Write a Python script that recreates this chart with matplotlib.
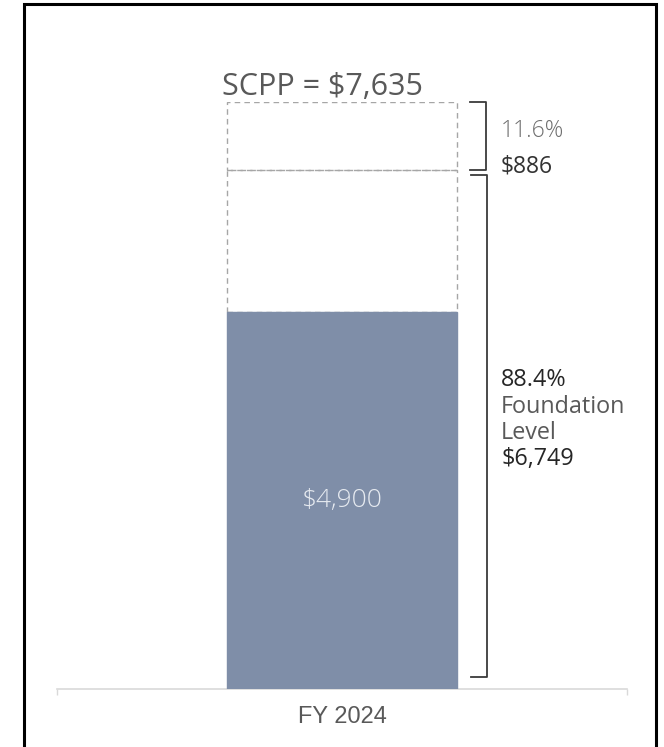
import matplotlib
matplotlib.use("Agg")
import matplotlib.pyplot as plt
from matplotlib.patches import Rectangle

# Data
categories = ["FY 2024"]
current = [4900]
foundation = [6749]
scpp = [7635]
foundation_pct = [88.4]
gap_pct = [11.6]
gap_amt = [886]

BAR_COLOR = "#7F8EA8"
DASH_COLOR = "#A6A6A6"
TEXT_GRAY = "#595959"
TEXT_LIGHT = "#6E6E6E"
TEXT_DARK = "#262626"
BRACKET = "#3A3A3A"

plt.rcParams["font.family"] = ["Open Sans", "DejaVu Sans"]

fig = plt.figure(figsize=(6.64, 7.47), dpi=100)
fig.patch.set_facecolor("white")

# outer frame (bottom edge runs off the image)
fig.patches.append(Rectangle((24 / 664, -0.05), (656 - 24) / 664, 1.05 - 4 / 747,
                             transform=fig.transFigure, fill=False,
                             edgecolor="black", linewidth=2.2))

ax = fig.add_axes([57 / 664, (747 - 689) / 747, (627 - 57) / 664, (689 - 102) / 747])
ax.set_xlim(-0.5, 0.5)
ax.set_ylim(0, scpp[0])

x = list(range(len(categories)))
w = 0.402

# dashed outlines: gap up to foundation, then gap up to SCPP
ax.bar(x, [f - c for f, c in zip(foundation, current)], bottom=current, width=w,
       facecolor="none", edgecolor=DASH_COLOR, linestyle=(0, (4, 3)), linewidth=1, zorder=1)
ax.bar(x, [s - f for s, f in zip(scpp, foundation)], bottom=foundation, width=w,
       facecolor="none", edgecolor=DASH_COLOR, linestyle=(0, (4, 3)), linewidth=1, zorder=1)
ax.bar(x, current, width=w, color=BAR_COLOR, edgecolor=BAR_COLOR,
       linewidth=1, zorder=3)

for xi, v in zip(x, current):
    ax.text(xi, v * 0.5, f"${v:,.0f}", ha="center", va="center",
            color="#E6EAF0", fontsize=19, fontweight="light", zorder=4)

for xi, v in zip(x, scpp):
    ax.annotate(f"SCPP = ${v:,.0f}", (xi - w / 2 - 0.009, v), xytext=(0, 5),
                textcoords="offset points", ha="left", va="baseline",
                color=TEXT_GRAY, fontsize=22, annotation_clip=False)


# brackets
def bracket(x0, y0, y1, dx):
    ax.plot([x0, x0 + dx, x0 + dx, x0], [y1, y1, y0, y0],
            color=BRACKET, linewidth=1.3, clip_on=False)


for xi, f, s in zip(x, foundation, scpp):
    bx = xi + w / 2 + 0.024
    bracket(bx, f, s, 0.028)
    bracket(bx + 0.002, s * 0.02, f - s * 0.0085, 0.028)

for xi, f, s, gp, ga, fp in zip(x, foundation, scpp, gap_pct, gap_amt, foundation_pct):
    tx = xi + w / 2 + 0.078
    mid_small = (f + s) / 2
    ax.annotate(f"{gp:.1f}%", (tx, mid_small), xytext=(0, -1), textcoords="offset points",
                ha="left", va="baseline", color=TEXT_LIGHT, fontsize=16.5,
                fontweight="light", annotation_clip=False)
    ax.annotate(f"${ga:,.0f}", (tx, mid_small), xytext=(0, -26), textcoords="offset points",
                ha="left", va="baseline", color="#333333", fontsize=16.5,
                annotation_clip=False)
    lines = [(f"{fp:.1f}%", TEXT_DARK, 31.3), ("Foundation", TEXT_GRAY, 11.9),
             ("Level", TEXT_GRAY, -6.8), (f"${f:,.0f}", TEXT_DARK, -25.6)]
    for txt, col, dy in lines:
        ax.annotate(txt, (tx, f / 2), xytext=(0, dy), textcoords="offset points",
                    ha="left", va="baseline", color=col, fontsize=16.8,
                    annotation_clip=False)

ax.set_xticks([-0.5, 0.5])
ax.set_xticklabels([])
ax.tick_params(axis="x", length=4, color="#D9D9D9", direction="out", width=1)
ax.set_yticks([])
for side in ["left", "right", "top"]:
    ax.spines[side].set_visible(False)
ax.spines["bottom"].set_color("#D9D9D9")
ax.spines["bottom"].set_linewidth(1.2)
ax.set_facecolor("none")

for xi, c in zip(x, categories):
    ax.annotate(c, (xi, 0), xytext=(0, -20.5), textcoords="offset points",
                ha="center", va="center", color=TEXT_GRAY, fontsize=17,
                family=["Liberation Sans", "DejaVu Sans"], annotation_clip=False)

fig.savefig("out.png", dpi=100)
